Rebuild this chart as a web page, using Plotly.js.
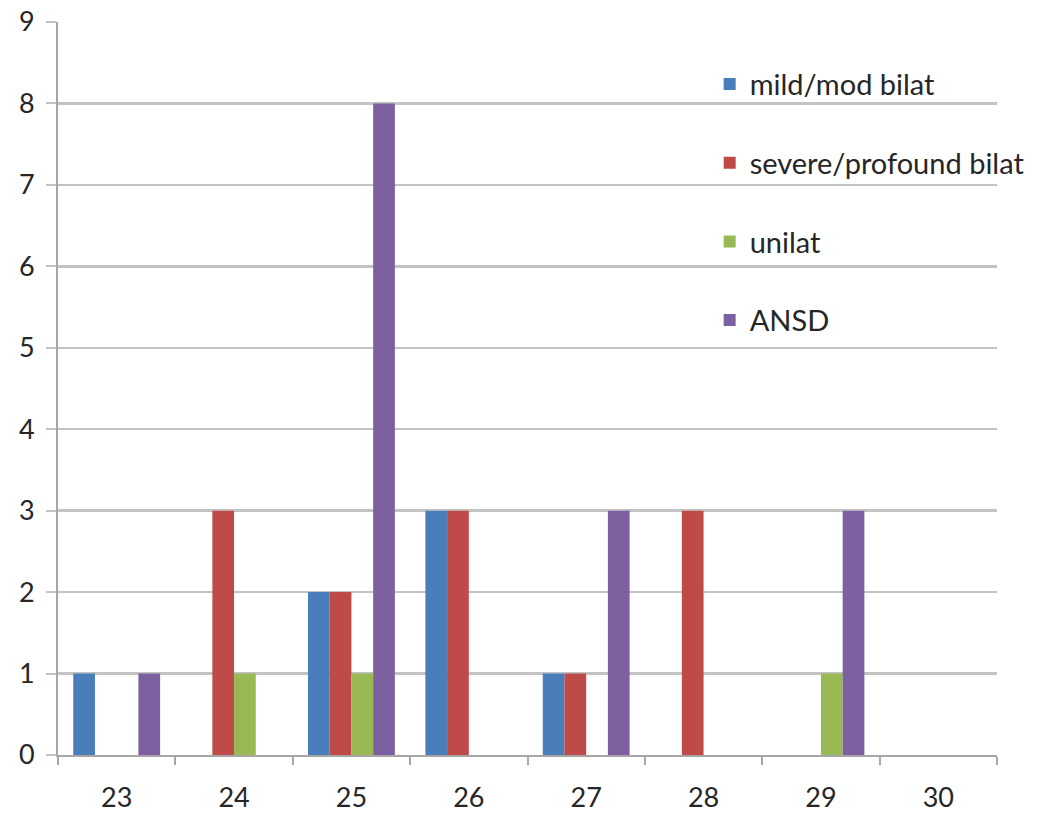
<!DOCTYPE html>
<html>
<head>
<meta charset="utf-8">
<script src="https://cdn.plot.ly/plotly-3.0.1.min.js"></script>
<style>
  html, body { margin: 0; padding: 0; background: #fff; }
  #chart { width: 1046px; height: 816px; }
</style>
</head>
<body>
<div id="chart"></div>
<script>
// Gestational week categories
const weeks = ['23', '24', '25', '26', '27', '28', '29', '30'];

// Counts per hearing-loss category
const mildModBilat     = [1, 0, 2, 3, 1, 0, 0, 0];
const severeProfBilat  = [0, 3, 2, 3, 1, 3, 0, 0];
const unilat           = [0, 1, 1, 0, 0, 0, 1, 0];
const ansd             = [1, 0, 8, 0, 3, 0, 3, 0];

const seriesNames  = ['mild/mod bilat', 'severe/profound bilat', 'unilat', 'ANSD'];
const seriesValues = [mildModBilat, severeProfBilat, unilat, ansd];
const seriesColors = ['#4a7ebb', '#be4b48', '#98b954', '#7d60a0'];

const fontFamily = 'Lato, "Open Sans", sans-serif';
const textColor = '#262626';

const traces = seriesNames.map((name, i) => ({
  type: 'bar',
  name: name,
  x: weeks,
  y: seriesValues[i],
  marker: { color: seriesColors[i], line: { width: 0 } },
  legendgroup: 'g' + i
}));

const layout = {
  width: 1046,
  height: 816,
  margin: { l: 58, r: 49, t: 22, b: 61 },
  paper_bgcolor: '#fff',
  plot_bgcolor: '#fff',
  font: { family: fontFamily, color: textColor, size: 27 },
  barmode: 'group',
  bargap: 0.26,
  bargroupgap: 0,
  showlegend: true,
  legend: {
    x: 0.694, xanchor: 'left',
    y: 0.95, yanchor: 'top',
    bgcolor: 'rgba(0,0,0,0)',
    font: { family: fontFamily, size: 29, color: textColor },
    tracegroupgap: 38,
    itemclick: false
  },
  xaxis: {
    type: 'category',
    showgrid: false,
    showline: true,
    linecolor: '#a6a6a6',
    linewidth: 2,
    ticks: 'outside',
    tickson: 'boundaries',
    ticklen: 8,
    tickcolor: '#a6a6a6',
    tickwidth: 2,
    tickfont: { family: fontFamily, size: 27, color: textColor },
    ticklabelstandoff: 18,
    fixedrange: true
  },
  yaxis: {
    range: [0, 9],
    dtick: 1,
    showgrid: true,
    gridcolor: '#c3c3c3',
    gridwidth: 2.5,
    zeroline: false,
    showline: true,
    linecolor: '#a6a6a6',
    linewidth: 2,
    ticks: 'outside',
    ticklen: 10,
    tickcolor: '#c3c3c3',
    tickwidth: 2,
    tickfont: { family: fontFamily, size: 27, color: textColor },
    ticklabelstandoff: 6,
    fixedrange: true
  }
};

Plotly.newPlot('chart', traces, layout, { displayModeBar: false, staticPlot: true });
</script>
</body>
</html>
